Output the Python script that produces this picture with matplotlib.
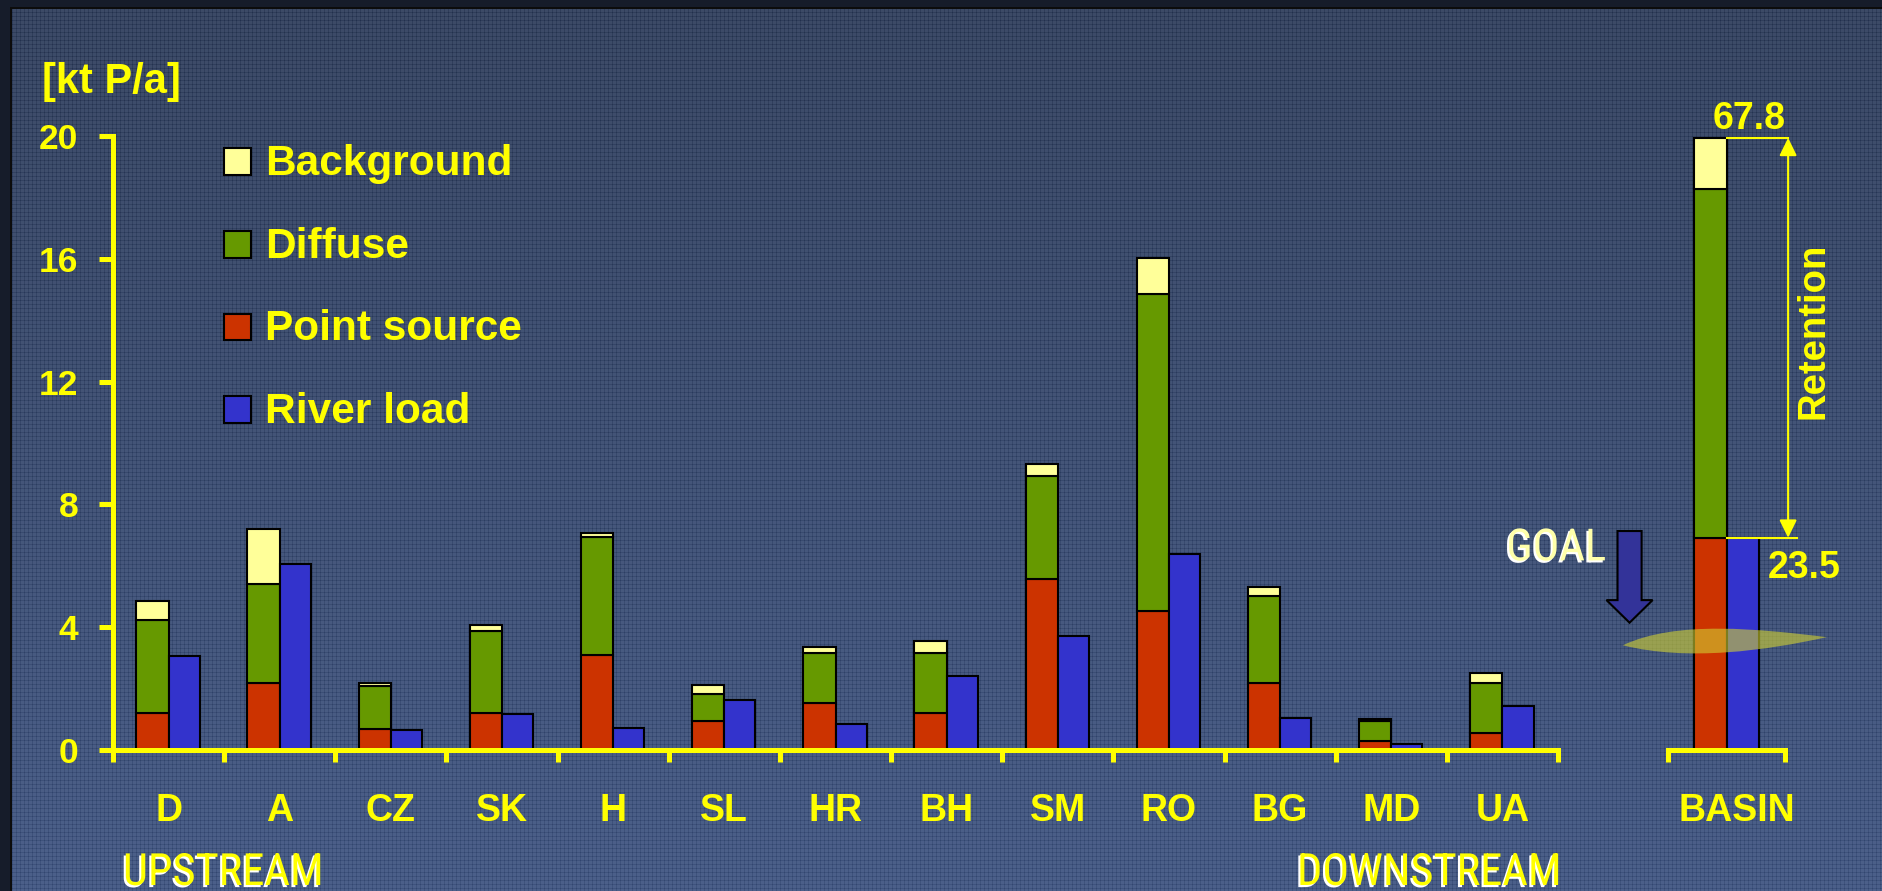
import numpy as np
import matplotlib
matplotlib.use("Agg")
import matplotlib.pyplot as plt
from matplotlib import patheffects as pe
from matplotlib import font_manager as fm
from matplotlib.patches import Rectangle, Polygon, PathPatch
from matplotlib.path import Path

# ---- data: phosphorus emissions per country [kt P/a] ----
countries = ["D", "A", "CZ", "SK", "H", "SL", "HR", "BH", "SM", "RO", "BG", "MD", "UA"]
point_source = [1.19, 2.17, 0.67, 1.19, 3.08, 0.94, 1.52, 1.19, 5.56, 4.52, 2.18, 0.28, 0.54]
diffuse = [3.06, 3.25, 1.43, 2.68, 3.85, 0.90, 1.65, 1.98, 3.38, 10.33, 2.85, 0.65, 1.63]
background = [0.60, 1.77, 0.08, 0.20, 0.14, 0.28, 0.19, 0.39, 0.39, 1.18, 0.27, 0.09, 0.33]
river_load = [3.06, 6.05, 0.65, 1.17, 0.72, 1.63, 0.85, 2.41, 3.71, 6.37, 1.05, 0.20, 1.43]

# whole basin (own scale)
basin_point = 23.5
basin_diffuse = 38.6
basin_background = 5.7
basin_river = 23.5
basin_goal = 12.0

y_ticks = [0, 4, 8, 12, 16, 20]
legend_labels = ["Background", "Diffuse", "Point source", "River load"]

# ---- style ----
YELLOW = "#FFFF00"
C_BG = "#FFFF99"
C_DIF = "#669900"
C_PNT = "#CC3300"
C_RIV = "#3333CC"
BOLD = "Liberation Sans"

W, H = 1883, 891
fig = plt.figure(figsize=(W / 100, H / 100), dpi=100)


def narrow_family():
    for fam in ["Liberation Sans Narrow", "Roboto Condensed", "Open Sans Condensed"]:
        try:
            fm.findfont(fm.FontProperties(family=fam), fallback_to_default=False)
            return fam
        except Exception:
            continue
    return "Liberation Sans"


NARROW = narrow_family()

# ---- slide background: vertical gradient with fine woven texture ----
yy = np.linspace(0, 1, H)[:, None, None]
top_c = np.array([60, 74, 102]) / 255.0
bot_c = np.array([76, 96, 138]) / 255.0
bg = top_c + (bot_c - top_c) * yy
bg = np.repeat(bg, W, axis=1)
rows = (np.arange(H) % 4 == 0)[:, None]
cols = (np.arange(W) % 4 == 0)[None, :]
shade = np.where(rows, 0.05, 0.0) + np.where(cols, 0.05, 0.0)
bg = bg - shade[:, :, None]
# dark frame on top and left
bg[:7, :, :] = np.array([22, 28, 42]) / 255.0
bg[:, :10, :] = np.array([22, 28, 42]) / 255.0
bg[7:9, 10:, :] = 0.05
bg[7:, 10:12, :] = 0.05
bg = np.clip(bg, 0, 1)
fig.figimage(bg, xo=0, yo=0, origin="upper", zorder=-10)


def fx(px):
    return px / W


def fy(py):
    return 1 - py / H


# ---- country axes ----
ax_top, ax_bot = 136, 750
ax = fig.add_axes([fx(113), fy(ax_bot), fx(1558) - fx(113), fy(ax_top) - fy(ax_bot)])
ax.set_facecolor("none")
ax.set_zorder(2)

x = np.arange(len(countries))
ps = np.array(point_source)
df = np.array(diffuse)
bk = np.array(background)
bw = 0.29
ekw = dict(edgecolor="black", linewidth=1.5)
ax.bar(x - bw / 2, ps, bw, color=C_PNT, **ekw)
ax.bar(x - bw / 2, df, bw, bottom=ps, color=C_DIF, **ekw)
ax.bar(x - bw / 2, bk, bw, bottom=ps + df, color=C_BG, **ekw)
ax.bar(x + 0.28 / 2, river_load, 0.28, color=C_RIV, **ekw)

ax.set_xlim(-0.5, len(countries) - 0.5)
ax.set_ylim(0, 20)
for s in ["top", "right"]:
    ax.spines[s].set_visible(False)
for s in ["left", "bottom"]:
    ax.spines[s].set_color(YELLOW)
    ax.spines[s].set_linewidth(3.6)
ax.spines["left"].set_zorder(5)
ax.spines["bottom"].set_zorder(5)

ax.set_yticks(y_ticks)
ax.set_yticklabels([str(v) for v in y_ticks], fontsize=25.5, fontweight="bold",
                   color=YELLOW, family=BOLD)
ax.tick_params(axis="y", length=10, width=3.6, color=YELLOW, pad=15)

ax.set_xticks(np.arange(-0.5, len(countries), 1.0))
ax.set_xticklabels([])
ax.tick_params(axis="x", which="major", length=8.4, width=3.6, color=YELLOW, direction="out")
ax.set_xticks(x, minor=True)
ax.set_xticklabels(countries, minor=True, fontsize=27, fontweight="bold",
                   color=YELLOW, family=BOLD)
ax.tick_params(axis="x", which="minor", length=0, pad=31)

# ---- basin axes (own scale) ----
ax2 = fig.add_axes([fx(1668), fy(ax_bot), fx(1785) - fx(1668), fy(ax_top) - fy(ax_bot)])
ax2.set_facecolor("none")
ax2.set_zorder(2)
ax2.bar([-bw / 2], [basin_point], bw, color=C_PNT, **ekw)
ax2.bar([-bw / 2], [basin_diffuse], bw, bottom=[basin_point], color=C_DIF, **ekw)
ax2.bar([-bw / 2], [basin_background], bw, bottom=[basin_point + basin_diffuse], color=C_BG, **ekw)
ax2.bar([bw / 2], [basin_river], bw, color=C_RIV, **ekw)
ax2.set_xlim(-0.525, 0.525)
ax2.set_ylim(0, 68)
for s in ["top", "right", "left"]:
    ax2.spines[s].set_visible(False)
ax2.spines["bottom"].set_color(YELLOW)
ax2.spines["bottom"].set_linewidth(3.6)
ax2.spines["bottom"].set_zorder(5)
ax2.set_yticks([])
ax2.set_xticks([-0.525, 0.525])
ax2.set_xticklabels([])
ax2.tick_params(axis="x", which="major", length=8.4, width=3.6, color=YELLOW, direction="out")
ax2.set_xticks([0.09], minor=True)
ax2.set_xticklabels(["BASIN"], minor=True, fontsize=27, fontweight="bold",
                    color=YELLOW, family=BOLD)
ax2.tick_params(axis="x", which="minor", length=0, pad=31)

total = basin_point + basin_diffuse + basin_background

# retention bracket
ax2.plot([0, 0.553], [total, total], color=YELLOW, lw=1.5, clip_on=False, zorder=6)
ax2.plot([0, 0.632], [basin_river, basin_river], color=YELLOW, lw=1.5, clip_on=False, zorder=6)
ax2.annotate("", xy=(0.553, total), xytext=(0.553, basin_river),
             arrowprops=dict(arrowstyle="<|-|>,head_length=0.45,head_width=0.22",
                             mutation_scale=24, color=YELLOW, lw=1.5,
                             shrinkA=0, shrinkB=0),
             annotation_clip=False, zorder=6)
ax2.annotate(f"{total:.1f}", xy=(0.20, total), xytext=(0, 6.5), textcoords="offset points",
             ha="center", va="baseline", fontsize=27, fontweight="bold", color=YELLOW,
             family=BOLD, annotation_clip=False)
ax2.annotate(f"{basin_river:.1f}", xy=(0.37, basin_river), xytext=(0, -28.8),
             textcoords="offset points", ha="left", va="baseline", fontsize=27,
             fontweight="bold", color=YELLOW, family=BOLD, annotation_clip=False)
ax2.text(0.78, (total + basin_river) / 2 + 0.8, "Retention", rotation=90, ha="center",
         va="center", fontsize=27.5, fontweight="bold", color=YELLOW, family=BOLD,
         clip_on=False)

# goal arrow
gx = -0.87
arrow_pts = [(gx - 0.108, 24.25), (gx + 0.108, 24.25), (gx + 0.108, 16.6),
             (gx + 0.207, 16.6), (gx, 14.1), (gx - 0.207, 16.6), (gx - 0.108, 16.6)]
ax2.add_patch(Polygon(arrow_pts, closed=True, facecolor="#333399", edgecolor="black",
                      lw=1.5, clip_on=False, zorder=6))
ax2.text(-1.975, 21.0, "GOAL", ha="left", va="baseline", fontsize=32, family=NARROW,
         color="#FFFFAA", clip_on=False, zorder=7,
         path_effects=[pe.SimplePatchShadow(offset=(-1.5, -1.5), shadow_rgbFace="white",
                                            alpha=1.0), pe.Normal()])

# goal band
L = (-0.93, basin_goal - 0.4)
R = (0.9, basin_goal + 0.5)
verts = [L, (-0.45, basin_goal + 2.4), (0.3, basin_goal + 1.4), R,
         (0.35, basin_goal - 1.0), (-0.35, basin_goal - 2.2), L, L]
codes = [Path.MOVETO, Path.CURVE4, Path.CURVE4, Path.CURVE4,
         Path.CURVE4, Path.CURVE4, Path.CURVE4, Path.CLOSEPOLY]
ax2.add_patch(PathPatch(Path(verts, codes), facecolor=(0.82, 0.82, 0.2), alpha=0.6,
                        edgecolor="none", clip_on=False, zorder=4))

# ---- legend ----
leg_colors = [C_BG, C_DIF, C_PNT, C_RIV]
base0 = 175
for i, (lab, c) in enumerate(zip(legend_labels, leg_colors)):
    by = base0 + i * 82.6
    fig.patches.append(Rectangle((fx(224.5), fy(by)), fx(26.5), 26.5 / H, transform=fig.transFigure,
                                 facecolor=c, edgecolor="black", lw=1.5, zorder=3))
    fig.text(fx(264.7), fy(by), lab, ha="left", va="baseline", fontsize=30.5,
             fontweight="bold", color=YELLOW, family=BOLD)

# unit label
fig.text(fx(42), fy(93), "[kt P/a]", ha="left", va="baseline", fontsize=30,
         fontweight="bold", color=YELLOW, family=BOLD)

# flow direction labels
shadow = [pe.SimplePatchShadow(offset=(-1.5, -1.5), shadow_rgbFace="white", alpha=1.0),
          pe.Normal()]
fig.text(fx(123), fy(885), "UPSTREAM", ha="left", va="baseline", fontsize=32,
         family=NARROW, color=YELLOW, path_effects=shadow)
fig.text(fx(1297), fy(885), "DOWNSTREAM", ha="left", va="baseline", fontsize=32,
         family=NARROW, color=YELLOW, path_effects=shadow)

fig.savefig("out.png", dpi=100)
